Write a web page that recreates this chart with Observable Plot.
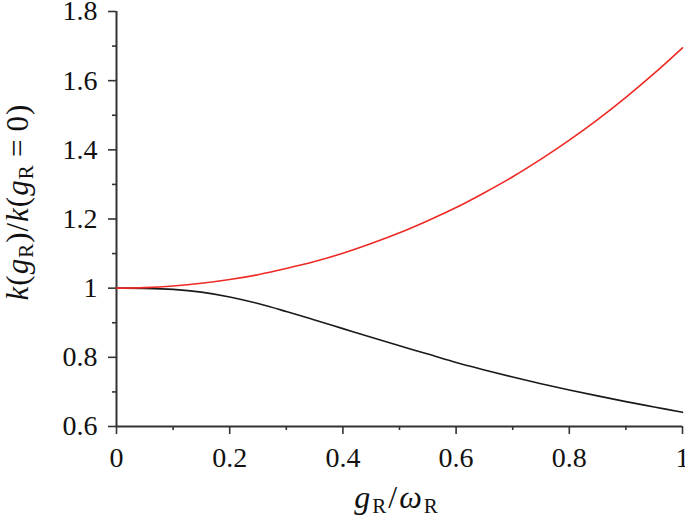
<!DOCTYPE html>
<html>
<head>
<meta charset="utf-8">
<script src="https://cdn.jsdelivr.net/npm/d3@7"></script>
<script src="https://cdn.jsdelivr.net/npm/@observablehq/plot@0.6"></script>
<style>
  html, body { margin: 0; padding: 0; background: #fff; }
  svg { display: block; }
</style>
</head>
<body>
<div id="chart"></div>
<script>
const gRatio = [0, 0.05, 0.1, 0.15, 0.2, 0.25, 0.3, 0.35, 0.4, 0.45, 0.5, 0.55, 0.6, 0.65, 0.7, 0.75, 0.8, 0.85, 0.9, 0.95, 1.0];
const redSeries = [1.0, 1.0016, 1.0062, 1.014, 1.025, 1.039, 1.057, 1.077, 1.101, 1.129, 1.160, 1.195, 1.233, 1.276, 1.322, 1.373, 1.428, 1.4875, 1.552, 1.621, 1.695];
const blackSeries = [1.0, 0.9995, 0.9965, 0.9885, 0.9745, 0.9555, 0.9325, 0.908, 0.883, 0.858, 0.8335, 0.8095, 0.785, 0.7635, 0.743, 0.7235, 0.7055, 0.6885, 0.672, 0.6565, 0.641];
const xMajor = [0, 0.2, 0.4, 0.6, 0.8, 1];
const xMinor = [0.1, 0.3, 0.5, 0.7, 0.9];
const yMajor = [0.6, 0.8, 1, 1.2, 1.4, 1.6, 1.8];
const yMinor = [0.7, 0.9, 1.1, 1.3, 1.5, 1.7];

const red = gRatio.map((x, i) => ({x, y: redSeries[i]}));
const black = gRatio.map((x, i) => ({x, y: blackSeries[i]}));
const fmt = d => String(+d.toFixed(2));
const axisColor = "#333";
const font = "Liberation Serif";

const chart = Plot.plot({
  width: 685,
  height: 521,
  marginLeft: 116,
  marginRight: 3,
  marginTop: 11,
  marginBottom: 95,
  x: {domain: [0, 1]},
  y: {domain: [0.6, 1.8]},
  style: {fontFamily: font, fontSize: "28px", color: "#111", background: "#fff"},
  marks: [
    Plot.axisX(xMajor, {tickSize: 8, tickPadding: 13, tickFormat: fmt, label: null, stroke: axisColor, strokeWidth: 1.6, fill: "#111"}),
    Plot.axisX(xMinor, {tickSize: 4, text: null, label: null, stroke: axisColor, strokeWidth: 1.6}),
    Plot.axisY(yMajor, {tickSize: 8, tickPadding: 11, tickFormat: fmt, label: null, stroke: axisColor, strokeWidth: 1.6, fill: "#111"}),
    Plot.axisY(yMinor, {tickSize: 4, text: null, label: null, stroke: axisColor, strokeWidth: 1.6}),
    Plot.ruleX([0], {stroke: axisColor, strokeWidth: 2}),
    Plot.ruleY([0.6], {stroke: axisColor, strokeWidth: 2}),
    Plot.line(black, {x: "x", y: "y", stroke: "#1a1a1a", strokeWidth: 1.6, curve: "catmull-rom"}),
    Plot.line(red, {x: "x", y: "y", stroke: "#ee2a24", strokeWidth: 1.6, curve: "catmull-rom"})
  ]
});

document.getElementById("chart").appendChild(chart);

const svg = d3.select(chart);

// x-axis label: g_R / ω_R
const xl = svg.append("text")
  .attr("x", 397).attr("y", 508)
  .attr("text-anchor", "middle")
  .style("letter-spacing", "2px")
  .attr("font-family", font).attr("font-size", 32).attr("fill", "#111");
xl.append("tspan").attr("font-style", "italic").text("g");
xl.append("tspan").attr("font-size", 21).attr("dy", 5).text("R");
xl.append("tspan").attr("dy", -5).text("/");
xl.append("tspan").attr("font-style", "italic").text("ω");
xl.append("tspan").attr("font-size", 21).attr("dy", 5).text("R");

// y-axis label: k(g_R)/k(g_R = 0)
const yl = svg.append("text")
  .attr("transform", "translate(28,202) rotate(-90)")
  .attr("text-anchor", "middle")
  .style("letter-spacing", "1px")
  .attr("font-family", font).attr("font-size", 31).attr("fill", "#111");
yl.append("tspan").attr("font-style", "italic").text("k");
yl.append("tspan").text("(");
yl.append("tspan").attr("font-style", "italic").text("g");
yl.append("tspan").attr("font-size", 21).attr("dy", 5).text("R");
yl.append("tspan").attr("dy", -5).text(")/");
yl.append("tspan").attr("font-style", "italic").text("k");
yl.append("tspan").text("(");
yl.append("tspan").attr("font-style", "italic").text("g");
yl.append("tspan").attr("font-size", 21).attr("dy", 5).text("R");
yl.append("tspan").attr("dy", -5).text("\u2009=\u20090)");
</script>
</body>
</html>
